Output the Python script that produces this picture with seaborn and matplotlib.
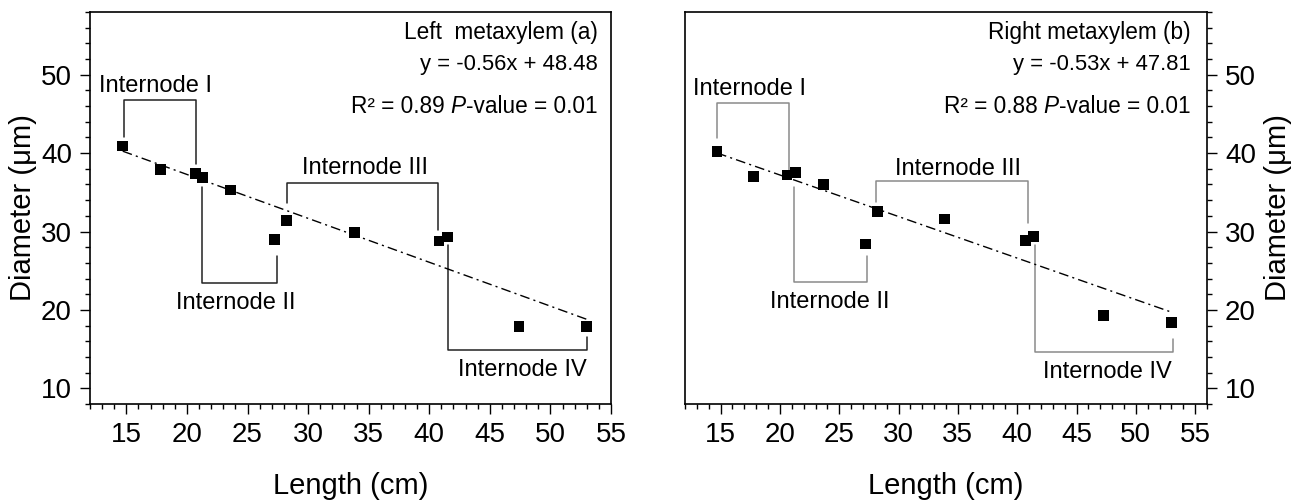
import matplotlib
matplotlib.use("Agg")
import matplotlib.pyplot as plt
from matplotlib.ticker import MultipleLocator
import numpy as np
import pandas as pd
import seaborn as sns

# ---- data ----
x_left = [14.7, 17.8, 20.7, 21.3, 23.6, 27.2, 28.2, 33.8, 40.8, 41.5, 47.4, 53.0]
y_left = [40.9, 37.9, 37.4, 36.9, 35.3, 29.0, 31.4, 29.9, 28.8, 29.3, 17.9, 17.9]
x_right = [14.7, 17.8, 20.6, 21.3, 23.7, 27.2, 28.2, 33.9, 40.7, 41.4, 47.3, 53.0]
y_right = [40.2, 37.0, 37.2, 37.5, 36.0, 28.4, 32.6, 31.6, 28.9, 29.4, 19.3, 18.4]
fit_left = (-0.56, 48.48)
fit_right = (-0.53, 47.81)
titles = ["Left  metaxylem (a)", "Right metaxylem (b)"]
eq_texts = ["y = -0.56x + 48.48", "y = -0.53x + 47.81"]
r2_texts = ["R² = 0.89 ", "R² = 0.88 "]
p_texts = ["-value = 0.01", "-value = 0.01"]
internode_names = ["Internode I", "Internode II", "Internode III", "Internode IV"]

# bracket annotation geometry (data coords)
brackets_left = [
    [(14.78, 42.1), (14.78, 46.8), (20.72, 46.8), (20.72, 38.6)],
    [(21.27, 35.65), (21.27, 23.45), (27.4, 23.45), (27.4, 26.87)],
    [(28.24, 33.7), (28.24, 36.24), (40.7, 36.24), (40.7, 30.2)],
    [(41.56, 28.3), (41.56, 14.85), (52.98, 14.85), (52.98, 16.5)],
]
labels_left = [(17.4, 48.5), (24.0, 20.9), (34.7, 38.1), (47.7, 12.3)]
brackets_right = [
    [(14.71, 41.9), (14.71, 46.4), (20.73, 46.4), (20.73, 37.9)],
    [(21.2, 35.7), (21.2, 23.5), (27.34, 23.5), (27.34, 26.9)],
    [(28.14, 33.8), (28.14, 36.4), (40.9, 36.4), (40.9, 31.05)],
    [(41.5, 28.3), (41.5, 14.6), (53.1, 14.6), (53.1, 16.3)],
]
labels_right = [(17.44, 48.2), (24.18, 21.0), (35.0, 38.0), (47.6, 12.1)]

sns.set_style("ticks")
plt.rcParams["font.family"] = ["Liberation Sans", "DejaVu Sans"]
for k in ["text.color", "axes.labelcolor", "xtick.color", "ytick.color", "axes.edgecolor"]:
    plt.rcParams[k] = "black"

fig = plt.figure(figsize=(13.01, 5.0), dpi=100)
ax1 = fig.add_axes([90 / 1301, 96 / 500, 521 / 1301, 392 / 500])
ax2 = fig.add_axes([685 / 1301, 96 / 500, 522 / 1301, 392 / 500])

panels = [
    (ax1, x_left, y_left, fit_left, brackets_left, labels_left, "#222222", (12, 55), 0.974),
    (ax2, x_right, y_right, fit_right, brackets_right, labels_right, "#8a8a8a", (12, 56), 0.968),
]

for i, (ax, xs, ys, fit, brs, lbls, bcol, xlim, tx) in enumerate(panels):
    df = pd.DataFrame({"Length": xs, "Diameter": ys})
    # fit line
    xl = np.array([min(xs), max(xs)])
    ax.plot(xl, fit[0] * xl + fit[1], color="black", lw=1.0,
            linestyle=(0, (7, 3, 1.5, 3)), zorder=2)
    sns.scatterplot(data=df, x="Length", y="Diameter", ax=ax, marker="s", s=60,
                    color="black", edgecolor="none", zorder=3)
    for br, (lx, ly), name in zip(brs, lbls, internode_names):
        bx, by = zip(*br)
        ax.plot(bx, by, color=bcol, lw=1.1, zorder=1)
        ax.text(lx, ly, name, ha="center", va="center", fontsize=17)
    ax.text(tx, 0.947, titles[i], transform=ax.transAxes, ha="right", va="center", fontsize=16.3)
    ax.text(tx, 0.867, eq_texts[i], transform=ax.transAxes, ha="right", va="center", fontsize=15.8)
    t3 = ax.text(tx, 0.760, p_texts[i], transform=ax.transAxes, ha="right", va="center", fontsize=16.3)
    t2 = ax.annotate("P", xy=(0, 0), xycoords=t3, ha="right", va="bottom",
                     fontsize=16.3, fontstyle="italic")
    ax.annotate(r2_texts[i], xy=(0, 0), xycoords=t2, ha="right", va="bottom", fontsize=16.3)

    ax.set_xlim(*xlim)
    ax.set_ylim(8, 58)
    ax.xaxis.set_major_locator(MultipleLocator(5))
    ax.xaxis.set_minor_locator(MultipleLocator(1))
    ax.yaxis.set_major_locator(MultipleLocator(10))
    ax.yaxis.set_minor_locator(MultipleLocator(2))
    ax.tick_params(which="major", length=7, width=1.0, labelsize=20, direction="out", pad=6,
                   color="black", labelcolor="black")
    ax.tick_params(which="minor", length=3.5, width=1.0, direction="out", color="black")
    for sp in ax.spines.values():
        sp.set_visible(True)
        sp.set_linewidth(1.2)
        sp.set_color("black")
    ax.set_xlabel("Length (cm)", fontsize=21, labelpad=17)
    ax.set_ylabel("Diameter (μm)", fontsize=21, labelpad=3)

ax2.yaxis.tick_right()
ax2.yaxis.set_label_position("right")
ax2.tick_params(axis="y", which="both", left=False, right=True)
ax2.yaxis.labelpad = 6
ax1.tick_params(axis="y", which="both", right=False)
for ax in (ax1, ax2):
    ax.tick_params(axis="x", which="both", top=False)

fig.savefig("out.png", dpi=100)
